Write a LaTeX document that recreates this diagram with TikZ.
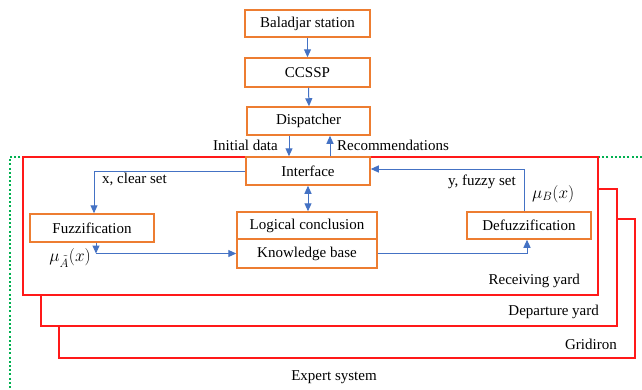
\documentclass[tikz,border=0pt]{standalone}
\usepackage{fontspec}
\setmainfont{Liberation Serif}
\usetikzlibrary{arrows.meta,calc}
\definecolor{boxorange}{RGB}{237,125,49}
\definecolor{arrblue}{RGB}{68,114,196}
\definecolor{yardred}{RGB}{255,25,25}
\definecolor{dotgreen}{RGB}{0,176,80}
\tikzset{
  box/.style={draw=boxorange, line width=1.5pt, fill=white, inner sep=0pt, font=\fontsize{15}{18}\selectfont},
  lbl/.style={inner sep=0pt, font=\fontsize{15}{18}\selectfont},
  mlbl/.style={inner sep=0pt, font=\fontsize{17}{20}\selectfont},
  arr/.style={draw=arrblue, line width=1pt, -{Triangle[length=8pt,width=7pt]}},
  darr/.style={draw=arrblue, line width=1pt, {Triangle[length=8pt,width=7pt]}-{Triangle[length=8pt,width=7pt]}},
  yard/.style={draw=yardred, line width=1.5pt, fill=white},
}
\begin{document}
\begin{tikzpicture}[x=1pt,y=-1pt]
\useasboundingbox (0,0) rectangle (642,389);
% expert system dotted frame
\draw[dotgreen, line width=2pt, dash pattern=on 2pt off 2.2pt] (642,157) -- (10,157) -- (10,389);
% yards
\draw[yard] (59,219) rectangle (635,358);
\draw[yard] (41,189) rectangle (617,326);
\draw[yard] (23,157) rectangle (598,295);
% boxes
\node[box, minimum width=125pt, minimum height=27pt] (bal) at (307.5,23.5) {Baladjar station};
\node[box, minimum width=125pt, minimum height=29pt] (ccssp) at (307.5,72.5) {CCSSP};
\node[box, minimum width=123pt, minimum height=28pt] (disp) at (308.5,121) {Dispatcher};
\node[box, minimum width=124pt, minimum height=28pt] (intf) at (308,171) {Interface};
\node[box, minimum width=124pt, minimum height=28pt] (fuzz) at (92,228) {Fuzzification};
\node[box, minimum width=140pt, minimum height=27pt] (logic) at (307,225.5) {Logical conclusion};
\node[box, minimum width=140pt, minimum height=29pt] (kb) at (307,253.5) {Knowledge base};
\node[box, minimum width=124pt, minimum height=27pt] (defuzz) at (529,225.5) {Defuzzification};
% labels
\node[lbl, anchor=east] (lid) at (278,145) {Initial data};
\node[lbl, anchor=west] (lrec) at (337,145) {Recommendations};
\node[lbl, anchor=west] (lx) at (102,179) {x, clear set};
\node[lbl, anchor=east] (ly) at (516,182) {y, fuzzy set};
\node[mlbl, anchor=east] (lma) at (91,258) {$\mu_{\tilde{A}}(x)$};
\node[mlbl, anchor=west] (lmb) at (532,194) {$\mu_{B}(x)$};
\node[lbl, anchor=east] (lrv) at (580,281) {Receiving yard};
\node[lbl, anchor=east] (ldp) at (599,312) {Departure yard};
\node[lbl, anchor=east] (lgr) at (617,344) {Gridiron};
\node[lbl] (les) at (334,377) {Expert system};
% connectors
\draw[arr] (bal) -- (ccssp);
\draw[arr] ([xshift=1pt]ccssp.south) -- ([xshift=0.5pt]disp.north);
\draw[arr] ([xshift=-19.5pt]disp.south) -- ([xshift=-19pt]intf.north);
\draw[arr] ([xshift=22pt]intf.north) -- ([xshift=21.5pt]disp.south);
\draw[arr] (intf.west) -| ([xshift=2pt]fuzz.north);
\draw[darr] (intf.south) -- (intf.south |- logic.north);
\coordinate (fz) at ([xshift=4pt]fuzz.south |- kb.west);
\draw[arr] ([xshift=4pt]fuzz.south) -- (fz);
\draw[arr] (fz) -- (kb.west);
\draw[arr] (kb.east) -| ([xshift=-2pt]defuzz.south);
\draw[arr] ([xshift=-5pt]defuzz.north) |- ([yshift=2pt]intf.east);
\end{tikzpicture}
\end{document}
